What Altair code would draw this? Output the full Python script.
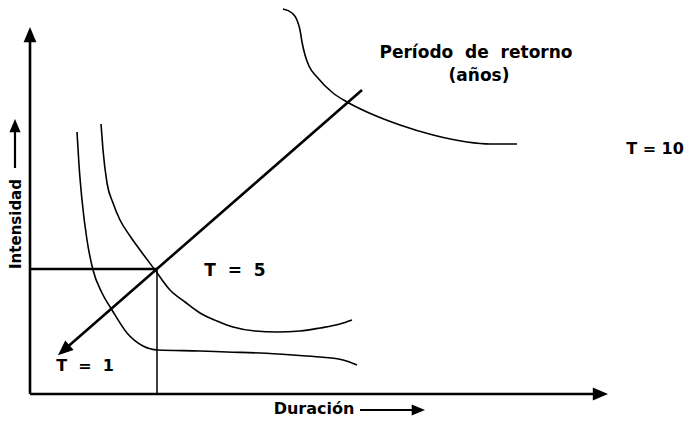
import altair as alt
import pandas as pd

# ---- data (duration on x, intensity on y; schematic units) ----
t1_dur = [47, 49, 52, 57, 63, 72, 82, 97, 113, 128, 170, 197, 230, 263, 290, 313, 327]
t1_int = [262, 229, 194, 154, 124, 101, 84, 61, 48, 44, 43, 42, 41, 39, 37, 34, 29]

t5_dur = [71, 73, 77, 83, 90, 100, 110, 125, 140, 155, 170, 187, 203, 225, 247, 270, 290, 310, 322]
t5_int = [270, 244, 211, 191, 174, 158, 144, 124, 104, 92, 81, 73, 67, 63, 62, 63, 66, 70, 74]

t10_dur = [253, 262, 267, 270, 272, 275, 279, 287, 303, 317, 337, 370, 403, 437, 460, 487]
t10_int = [385, 381, 374, 364, 352, 339, 328, 317, 301, 292, 282, 269, 259, 252, 250, 250]

# straight guide lines
axes_x1, axes_y1, axes_x2, axes_y2 = [0, 0], [0, 0], [0, 570], [352, 0]
diag_x1, diag_y1, diag_x2, diag_y2 = [332, 0], [304, 125], [34, 127], [44, 125]
vline_x1, vline_y1, vline_x2, vline_y2 = [127], [125], [127], [0]
shaft_x1, shaft_y1, shaft_x2, shaft_y2 = [-15, 330], [226, -16], [-15, 388], [268, -16]

# arrow heads (tip directions: up, right, down-left)
up_big_x, up_big_y = [0], [359]
right_big_x, right_big_y = [570], [0]
diag_head_x, diag_head_y = [34], [44]
up_small_x, up_small_y = [-15], [268]
right_small_x, right_small_y = [388], [-16]

NB = "\u00a0"
# labels
t_text = ["T " + NB + "= " + NB + "1", "T = 10"]
t_x = [55, 625]
t_y = [28, 245]

t5_text = ["T " + NB + "= " + NB + "5"]
t5_x = [205]
t5_y = [123]

per_text = ["Período " + NB + "de " + NB + "retorno", "(años)"]
per_x = [446, 449]
per_y = [341, 318]

dur_text = ["Duración"]
dur_x = [284]
dur_y = [-15]

ylab_text = ["Intensidad"]
ylab_x = [-14]
ylab_y = [170]

XS = alt.Scale(domain=[-22, 657], nice=False, zero=False)
YS = alt.Scale(domain=[-25, 386], nice=False, zero=False)


def xenc(f):
    return alt.X(f + ":Q", scale=XS, axis=None)


def yenc(f):
    return alt.Y(f + ":Q", scale=YS, axis=None)


curves = pd.concat([
    pd.DataFrame({"curve": "T1", "dur": t1_dur, "int": t1_int, "o": range(len(t1_dur))}),
    pd.DataFrame({"curve": "T5", "dur": t5_dur, "int": t5_int, "o": range(len(t5_dur))}),
    pd.DataFrame({"curve": "T10", "dur": t10_dur, "int": t10_int, "o": range(len(t10_dur))}),
])

curve_layer = alt.Chart(curves).mark_line(
    color="black", strokeWidth=1.6, interpolate="monotone"
).encode(x=xenc("dur"), y=yenc("int"), detail="curve:N", order="o:Q")


def segs(x1, y1, x2, y2, width):
    df = pd.DataFrame({"x1": x1, "y1": y1, "x2": x2, "y2": y2})
    return alt.Chart(df).mark_rule(color="black", strokeWidth=width).encode(
        x=xenc("x1"), y=yenc("y1"), x2="x2:Q", y2="y2:Q")


def head(xs, ys, angle, size):
    df = pd.DataFrame({"x": xs, "y": ys})
    return alt.Chart(df).mark_point(
        shape="M0,-1L0.8,0.9L-0.8,0.9Z", filled=True, color="black",
        opacity=1, strokeWidth=0, angle=angle, size=size
    ).encode(x=xenc("x"), y=yenc("y"))


def texts(t, xs, ys, size, angle=0):
    df = pd.DataFrame({"t": t, "x": xs, "y": ys})
    return alt.Chart(df).mark_text(
        font="DejaVu Sans", fontWeight="bold", fontSize=size, color="black",
        align="center", baseline="middle", angle=angle
    ).encode(x=xenc("x"), y=yenc("y"), text="t:N")


chart = alt.layer(
    curve_layer,
    segs(axes_x1, axes_y1, axes_x2, axes_y2, 2.6),
    segs(diag_x1, diag_y1, diag_x2, diag_y2, 2.6),
    segs(vline_x1, vline_y1, vline_x2, vline_y2, 1.5),
    segs(shaft_x1, shaft_y1, shaft_x2, shaft_y2, 2.2),
    head(up_big_x, up_big_y, 0, 256),
    head(right_big_x, right_big_y, 90, 256),
    head(diag_head_x, diag_head_y, 229, 256),
    head(up_small_x, up_small_y, 0, 196),
    head(right_small_x, right_small_y, 90, 196),
    texts(t_text, t_x, t_y, 16),
    texts(t5_text, t5_x, t5_y, 17),
    texts(per_text, per_x, per_y, 17),
    texts(dur_text, dur_x, dur_y, 16),
    texts(ylab_text, ylab_x, ylab_y, 15, 270),
).properties(
    width=679, height=411, padding=0, background="white",
    autosize=alt.AutoSizeParams(type="none"),
).configure_view(strokeWidth=0)

chart.save("out.html", embed_options={"renderer": "svg", "actions": False})
